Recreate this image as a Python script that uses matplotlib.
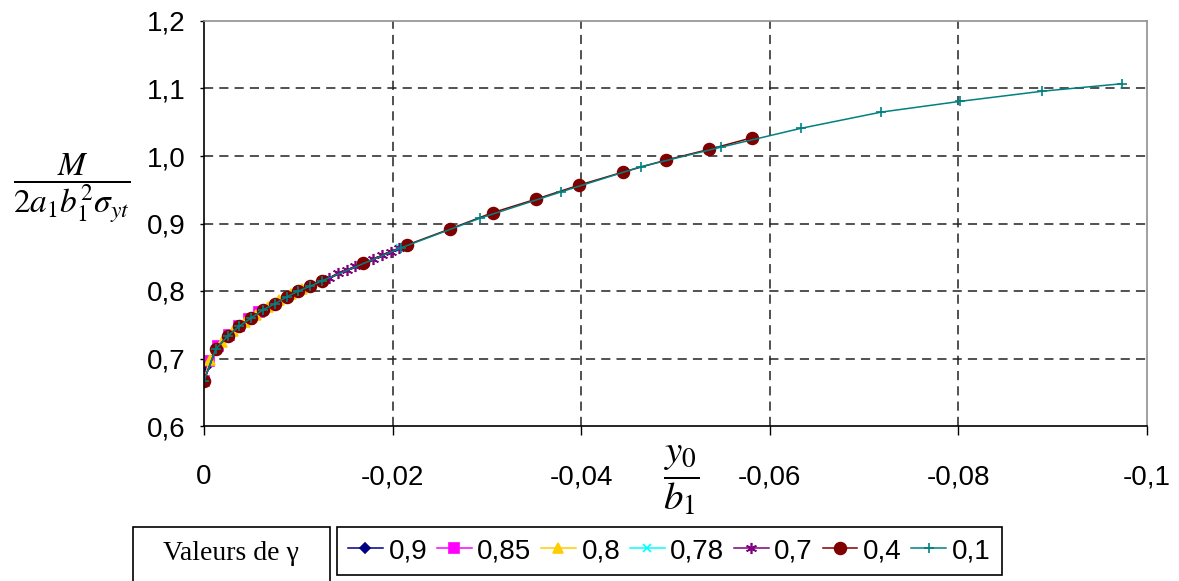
import matplotlib
matplotlib.use('Agg')
import matplotlib.pyplot as plt
from matplotlib.patches import Rectangle
from matplotlib.ticker import FuncFormatter

plt.rcParams['font.family'] = ['Liberation Sans', 'DejaVu Sans']
plt.rcParams['mathtext.fontset'] = 'stix'

# values (x = y0/b1, y = M / (2 a1 b1^2 sigma_yt))
gamma_labels = ['0,9', '0,85', '0,8', '0,78', '0,7', '0,4', '0,1']

x_09 = [0, -0.0002, -0.0004]
y_09 = [0.667, 0.688, 0.694]

x_085 = [0, -0.0005, -0.0015, -0.0026, -0.0037, -0.0048, -0.0058]
y_085 = [0.667, 0.696, 0.718, 0.735, 0.748, 0.758, 0.769]

x_08 = [0, -0.0006, -0.0019, -0.0031, -0.0043, -0.0055, -0.0068, -0.0080, -0.0092, -0.0104]
y_08 = [0.667, 0.698, 0.725, 0.741, 0.754, 0.765, 0.777, 0.786, 0.795, 0.803]

x_078 = [0, -0.00125, -0.0025, -0.005, -0.0075, -0.01, -0.0125, -0.0169, -0.0208]
y_078 = [0.667, 0.714, 0.733, 0.760, 0.781, 0.800, 0.815, 0.841, 0.864]

x_07 = [0, -0.00125, -0.0025, -0.00375, -0.005, -0.00625, -0.0075, -0.00875, -0.01, -0.01125,
        -0.0125, -0.0133, -0.0142, -0.0152, -0.0160, -0.0170, -0.0179, -0.0189, -0.0198, -0.0207]
y_07 = [0.667, 0.714, 0.733, 0.748, 0.760, 0.772, 0.781, 0.791, 0.800, 0.807,
        0.815, 0.819, 0.827, 0.831, 0.837, 0.841, 0.847, 0.853, 0.858, 0.864]

x_04 = [0, -0.00125, -0.0025, -0.00375, -0.005, -0.00625, -0.0075, -0.00875, -0.01, -0.01125,
        -0.0125, -0.0169, -0.0215, -0.0261, -0.0306, -0.0352, -0.0398, -0.0444, -0.0490, -0.0536, -0.0581]
y_04 = [0.667, 0.714, 0.733, 0.748, 0.760, 0.772, 0.781, 0.791, 0.800, 0.807,
        0.815, 0.841, 0.868, 0.892, 0.916, 0.936, 0.957, 0.976, 0.994, 1.010, 1.027]

x_01 = [0, -0.00125, -0.0025, -0.00375, -0.005, -0.00625, -0.0075, -0.00875, -0.01, -0.01125,
        -0.0125, -0.0209, -0.0293, -0.0379, -0.0463, -0.0548, -0.0633, -0.0718, -0.0802, -0.0889, -0.0973]
y_01 = [0.667, 0.714, 0.733, 0.748, 0.760, 0.772, 0.781, 0.791, 0.800, 0.807,
        0.815, 0.864, 0.908, 0.947, 0.984, 1.013, 1.041, 1.065, 1.081, 1.096, 1.107]

x_ticks = [0, -0.02, -0.04, -0.06, -0.08, -0.1]
y_ticks = [0.6, 0.7, 0.8, 0.9, 1.0, 1.1, 1.2]

series = [
    (x_09, y_09, '#000080', 'D', 5),
    (x_085, y_085, '#FF00FF', 's', 6.5),
    (x_08, y_08, '#FFCC00', '^', 7),
    (x_078, y_078, '#00FFFF', 'x', 6),
    (x_07, y_07, '#800080', (6, 2, 0), 8),
    (x_04, y_04, '#800000', 'o', 8.5),
    (x_01, y_01, '#008080', '+', 7),
]

fig = plt.figure(figsize=(11.79, 5.81), dpi=100)
ax = fig.add_axes([204 / 1179, 1 - 426 / 581, 943 / 1179, 405 / 581])

for (xs, ys, col, mk, ms), lab in zip(series, gamma_labels):
    ax.plot(xs, ys, color=col, marker=mk, markersize=ms, markerfacecolor=col,
            markeredgecolor=col, markeredgewidth=1.2, linewidth=1.1, label=lab)

ax.set_xlim(0, -0.1)
ax.set_ylim(0.6, 1.2)
ax.set_xticks(x_ticks)
ax.set_yticks(y_ticks)
comma = FuncFormatter(lambda v, p: ('%g' % round(v, 3)).replace('.', ','))
ax.xaxis.set_major_formatter(comma)
ax.yaxis.set_major_formatter(FuncFormatter(lambda v, p: ('%.1f' % v).replace('.', ',')))
ax.tick_params(axis='x', direction='out', length=6.5, width=1, pad=21, labelsize=20)
ax.tick_params(axis='y', direction='out', length=3, width=1, pad=10, labelsize=20)

for xv in x_ticks[1:-1]:
    ax.axvline(xv, color='#222222', lw=1.1, dashes=(6, 4), zorder=0.5)
for yv in y_ticks[1:-1]:
    ax.axhline(yv, color='#222222', lw=1.1, dashes=(6, 4), zorder=0.5)

for s in ['top', 'right']:
    ax.spines[s].set_color('#909090')
for s in ['left', 'bottom']:
    ax.spines[s].set_color('black')
for s in ax.spines.values():
    s.set_linewidth(1.2)

# axis titles as fractions
fig.text(72 / 1179, 1 - 188 / 581, r'$\dfrac{M}{2a_1b_1^2\sigma_{yt}}$', fontsize=24,
         ha='center', va='center')
fig.text(681 / 1179, 1 - 480 / 581, r'$\dfrac{y_0}{b_1}$', fontsize=28,
         ha='center', va='center')

# legend title box + legend
fig.patches.append(Rectangle((133 / 1179, -0.1), (330 - 133) / 1179, 0.1 + 1 - 527 / 581,
                             transform=fig.transFigure, fill=False, edgecolor='black', lw=1.2))
fig.text(231 / 1179, 1 - 553 / 581, 'Valeurs de γ', fontsize=20, family=['Liberation Serif'],
         ha='center', va='center')

leg = fig.legend(loc='upper left', bbox_to_anchor=(337 / 1179, 1 - 527 / 581), ncol=7,
                 fontsize=20, handlelength=1.25, handletextpad=0.2, columnspacing=0.35,
                 borderpad=0.4, borderaxespad=0, fancybox=False, framealpha=1,
                 edgecolor='black')
leg.get_frame().set_linewidth(1.2)

fig.savefig('out.png', dpi=100)
